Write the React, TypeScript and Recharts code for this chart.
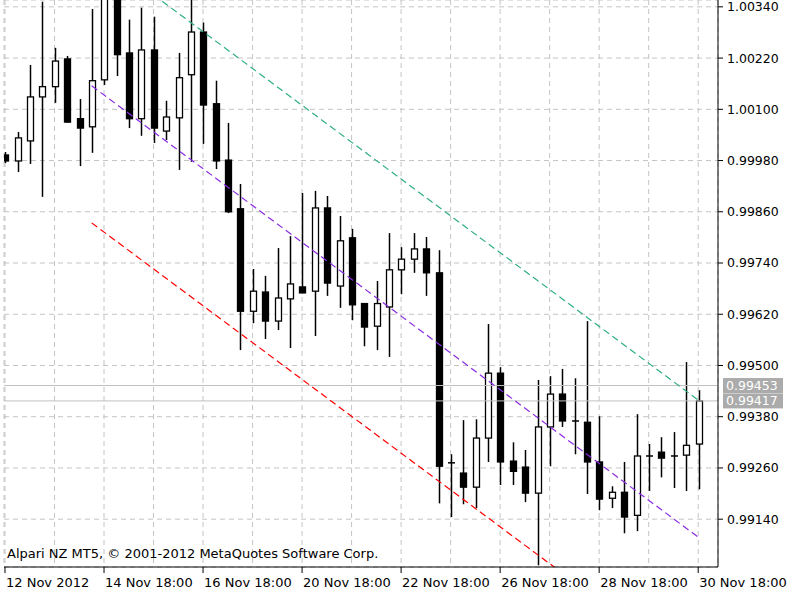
import React from 'react';
import { ComposedChart, Bar, Line, XAxis, YAxis, CartesianGrid, ReferenceLine } from 'recharts';

// H6 candles, 12 Nov - 30 Nov 2012 (index = bar number)
const opens = [0.99993, 0.99979, 1.00026, 1.00129, 1.00153, 1.00218, 1.00078, 1.00059, 1.00169, 1.00368, 1.00232, 1.00078, 1.00239, 1.00049, 1.00080, 1.00181, 1.00281, 1.00113, 0.99981, 0.99867, 0.99627, 0.99672, 0.99604, 0.99656, 0.99684, 0.99674, 0.99869, 0.99686, 0.99799, 0.99645, 0.99592, 0.99637, 0.99724, 0.99749, 0.99773, 0.99717, 0.99272, 0.99248, 0.99215, 0.99330, 0.99482, 0.99276, 0.99262, 0.99201, 0.99356, 0.99433, 0.99370, 0.99367, 0.99274, 0.99189, 0.99203, 0.99149, 0.99288, 0.99297, 0.99288, 0.99290, 0.99316];
const highs = [1.00000, 1.00047, 1.00204, 1.00352, 1.00244, 1.00225, 1.00124, 1.00335, 1.00427, 1.00403, 1.00310, 1.00338, 1.00317, 1.00120, 1.00232, 1.00368, 1.00303, 1.00167, 1.00068, 0.99925, 0.99726, 0.99710, 0.99775, 0.99803, 0.99904, 0.99909, 0.99897, 0.99850, 0.99820, 0.99646, 0.99698, 0.99810, 0.99777, 0.99810, 0.99801, 0.99770, 0.99292, 0.99372, 0.99374, 0.99597, 0.99496, 0.99320, 0.99302, 0.99466, 0.99475, 0.99492, 0.99470, 0.99604, 0.99381, 0.99217, 0.99274, 0.99386, 0.99316, 0.99332, 0.99344, 0.99508, 0.99442];
const lows = [0.99974, 0.99953, 0.99972, 0.99895, 1.00115, 1.00069, 0.99967, 0.99998, 1.00157, 1.00178, 1.00056, 1.00038, 1.00021, 1.00028, 0.99958, 0.99977, 1.00019, 0.99960, 0.99857, 0.99536, 0.99599, 0.99562, 0.99583, 0.99541, 0.99669, 0.99569, 0.99663, 0.99635, 0.99606, 0.99545, 0.99536, 0.99520, 0.99667, 0.99717, 0.99663, 0.99177, 0.99145, 0.99175, 0.99166, 0.99274, 0.99220, 0.99220, 0.99180, 0.99032, 0.99264, 0.99356, 0.99292, 0.99199, 0.99161, 0.99166, 0.99107, 0.99112, 0.99206, 0.99238, 0.99213, 0.99206, 0.99210];
const closes = [0.99979, 1.00033, 1.00129, 1.00153, 1.00213, 1.00070, 1.00056, 1.00167, 1.00380, 1.00228, 1.00078, 1.00239, 1.00056, 1.00082, 1.00174, 1.00281, 1.00110, 0.99979, 0.99860, 0.99627, 0.99674, 0.99604, 0.99658, 0.99691, 0.99670, 0.99869, 0.99693, 0.99792, 0.99642, 0.99590, 0.99645, 0.99724, 0.99749, 0.99773, 0.99717, 0.99264, 0.99271, 0.99215, 0.99330, 0.99482, 0.99274, 0.99252, 0.99201, 0.99356, 0.99433, 0.99370, 0.99370, 0.99274, 0.99187, 0.99203, 0.99145, 0.99288, 0.99288, 0.99283, 0.99286, 0.99313, 0.99417];

// equidistant channel, anchored on bars 7 and 56
const channelIdx = [7, 56];
const channelUpper = [1.00476, 0.99419];
const channelMid = [1.00155, 0.99098];
const channelLower = [0.99834, 0.98777];

const tickIdx = [0, 8, 16, 24, 32, 40, 48, 56];
const tickLabels = ['12 Nov 2012', '14 Nov 18:00', '16 Nov 18:00', '20 Nov 18:00', '22 Nov 18:00', '26 Nov 18:00', '28 Nov 18:00', '30 Nov 18:00'];
const gridIdx = [0, 4, 8, 12, 16, 20, 24, 28, 32, 36, 40, 44, 48, 52, 56];
const priceTicks = [0.9914, 0.9926, 0.9938, 0.995, 0.9962, 0.9974, 0.9986, 0.9998, 1.001, 1.0022, 1.0034];
const ask = 0.99453;
const bid = 0.99417;

const xDomain = [-0.08, 57.6];
const yDomain = [0.99028, 1.00356];

const data = opens.map((o, i) => {
  const ci = channelIdx.indexOf(i);
  return {
    i,
    open: o,
    high: highs[i],
    low: lows[i],
    close: closes[i],
    range: [lows[i], highs[i]],
    upper: ci >= 0 ? channelUpper[ci] : null,
    mid: ci >= 0 ? channelMid[ci] : null,
    lower: ci >= 0 ? channelLower[ci] : null,
  };
});

const FONT = '"DejaVu Sans", Tahoma, sans-serif';

const Candle = (props: any) => {
  const { x, y, width, height, payload } = props;
  if (x == null || y == null) return null;
  const top = Math.min(y, y + height);
  const bottom = Math.max(y, y + height);
  const { open, close, high, low } = payload;
  const k = (bottom - top) / (high - low);
  const py = (v: number) => top + (high - v) * k;
  const cx = Math.round(x + width / 2) + 0.5;
  const bTop = py(Math.max(open, close));
  const bBot = py(Math.min(open, close));
  const bull = close >= open;
  return (
    <g>
      <line x1={cx} x2={cx} y1={py(high)} y2={py(low)} stroke="#000" strokeWidth={1.5} />
      {bBot - bTop < 1.5 ? (
        <line x1={cx - 3.5} x2={cx + 3.5} y1={bTop} y2={bTop} stroke="#000" strokeWidth={1.5} />
      ) : (
        <rect x={cx - 3} y={bTop} width={6} height={bBot - bTop} fill={bull ? '#fff' : '#000'} stroke="#000" strokeWidth={1.3} />
      )}
    </g>
  );
};

const XTick = (props: any) => {
  const { x, y, payload } = props;
  const idx = tickIdx.indexOf(payload.value);
  return (
    <text x={x + 1} y={y} dy="0.71em" textAnchor="start" fill="#000" fontSize={13} fontFamily={FONT}>
      {idx >= 0 ? tickLabels[idx] : ''}
    </text>
  );
};

const PriceTag = (value: number) => (props: any) => {
  const vb = props.viewBox || {};
  const lx = vb.x + vb.width + 5;
  return (
    <g>
      <rect x={lx} y={vb.y - 7.5} width={60} height={15} fill="#ababab" />
      <text x={lx + 3} y={vb.y} dy="0.36em" fill="#fff" fontSize={12.5} fontFamily={FONT}>
        {value.toFixed(5)}
      </text>
    </g>
  );
};

export default function App() {
  return (
    <div style={{ position: 'absolute', left: 0, top: 0, width: 800, height: 600, background: '#fff' }}>
      <ComposedChart width={800} height={600} data={data} margin={{ top: 0, right: 0, bottom: 0, left: 4 }}>
        <XAxis xAxisId="grid" orientation="top" height={0} type="number" dataKey="i" domain={xDomain} allowDataOverflow ticks={gridIdx} hide />
        <XAxis
          xAxisId="main"
          orientation="bottom"
          type="number"
          dataKey="i"
          domain={xDomain}
          allowDataOverflow
          ticks={tickIdx}
          interval={0}
          height={33}
          tickSize={6}
          tickMargin={5}
          axisLine={{ stroke: '#000' }}
          tickLine={{ stroke: '#000' }}
          tick={<XTick />}
        />
        <YAxis yAxisId="frame" orientation="left" width={0} domain={[0, 1]} tick={false} tickLine={false} axisLine={{ stroke: '#000' }} />
        <YAxis
          yAxisId="price"
          orientation="right"
          type="number"
          domain={yDomain}
          allowDataOverflow
          ticks={priceTicks}
          interval={0}
          width={82}
          tickSize={5}
          tickMargin={4}
          tickFormatter={(v: number) => v.toFixed(5)}
          axisLine={{ stroke: '#000' }}
          tickLine={{ stroke: '#000' }}
          tick={{ fill: '#000', fontSize: 12.5, fontFamily: FONT }}
        />
        <CartesianGrid xAxisId="grid" yAxisId="price" stroke="#c4c4c4" strokeDasharray="5 4" />
        <ReferenceLine xAxisId="main" yAxisId="price" y={ask} stroke="#c0c0c0" label={PriceTag(ask)} />
        <ReferenceLine xAxisId="main" yAxisId="price" y={bid} stroke="#c0c0c0" label={PriceTag(bid)} />
        <Line xAxisId="main" yAxisId="price" dataKey="upper" stroke="#2fae83" strokeWidth={1.2} strokeDasharray="7 4" dot={false} connectNulls isAnimationActive={false} />
        <Line xAxisId="main" yAxisId="price" dataKey="mid" stroke="#8a2be2" strokeWidth={1.2} strokeDasharray="7 4" dot={false} connectNulls isAnimationActive={false} />
        <Line xAxisId="main" yAxisId="price" dataKey="lower" stroke="#ff0000" strokeWidth={1.2} strokeDasharray="7 4" dot={false} connectNulls isAnimationActive={false} />
        <Bar xAxisId="main" yAxisId="price" dataKey="range" barSize={7} shape={<Candle />} isAnimationActive={false} />
      </ComposedChart>
      <div style={{ position: 'absolute', left: 7, top: 547, fontFamily: FONT, fontSize: 13, lineHeight: '13px', color: '#000', whiteSpace: 'nowrap' }}>
        Alpari NZ MT5, © 2001-2012 MetaQuotes Software Corp.
      </div>
    </div>
  );
}
